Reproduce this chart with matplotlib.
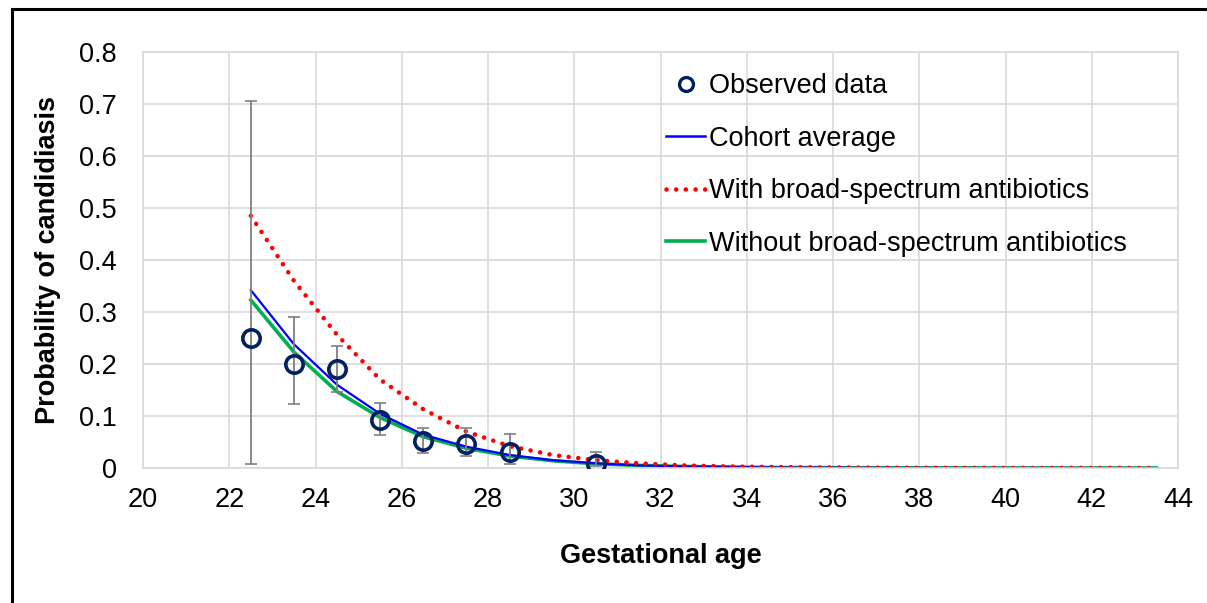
import matplotlib
matplotlib.use("Agg")
import matplotlib.pyplot as plt
from matplotlib.lines import Line2D
from matplotlib.patches import Rectangle

plt.rcParams['font.family'] = ['Liberation Sans', 'DejaVu Sans']

# Observed data
obs_x = [22.5, 23.5, 24.5, 25.5, 26.5, 27.5, 28.5, 30.5]
obs_y = [0.25, 0.20, 0.19, 0.093, 0.051, 0.047, 0.031, 0.008]
obs_lo = [0.008, 0.123, 0.146, 0.063, 0.029, 0.023, 0.008, 0.004]
obs_hi = [0.706, 0.290, 0.235, 0.125, 0.077, 0.077, 0.065, 0.031]

# Model curves
ga = [22.5, 23.5, 24.5, 25.5, 26.5, 27.5, 28.5, 29.5, 30.5, 31.5, 32.5,
      33.5, 34.5, 35.5, 36.5, 37.5, 38.5, 39.5, 40.5, 41.5, 42.5, 43.5]
cohort = [0.342, 0.238, 0.160, 0.104, 0.064, 0.041, 0.025, 0.015, 0.009,
          0.005, 0.003, 0.002, 0.001, 0.0008, 0.0005, 0.0003, 0.0002,
          0.0001, 0.0001, 0.0001, 0.0, 0.0]
with_abx = [0.485, 0.360, 0.256, 0.170, 0.113, 0.070, 0.042, 0.025, 0.015,
            0.009, 0.005, 0.003, 0.002, 0.0012, 0.0008, 0.0005, 0.0003,
            0.0002, 0.0001, 0.0001, 0.0001, 0.0]
without_abx = [0.323, 0.223, 0.147, 0.097, 0.060, 0.038, 0.023, 0.014,
               0.008, 0.005, 0.003, 0.002, 0.001, 0.0007, 0.0004, 0.0003,
               0.0002, 0.0001, 0.0001, 0.0, 0.0, 0.0]

xticks = list(range(20, 46, 2))
yticks = [0, 0.1, 0.2, 0.3, 0.4, 0.5, 0.6, 0.7, 0.8]
ytick_labels = ['0', '0.1', '0.2', '0.3', '0.4', '0.5', '0.6', '0.7', '0.8']

W, H = 1207, 603
FS = 19.5
fig = plt.figure(figsize=(W / 100, H / 100), dpi=100)
left, right, top, bottom = 143, 1178, 52, 468
ax = fig.add_axes([left / W, 1 - bottom / H, (right - left) / W, (bottom - top) / H])

grid_c = '#d9d9d9'
ax.set_xlim(20, 44)
ax.set_ylim(0, 0.8)
ax.set_xticks(xticks)
ax.set_yticks(yticks)
ax.set_yticklabels(ytick_labels)
ax.grid(True, color=grid_c, linewidth=1.2)
ax.set_axisbelow(True)
for s in ax.spines.values():
    s.set_color(grid_c)
    s.set_linewidth(1.2)
ax.tick_params(length=0, labelsize=FS)
ax.tick_params(axis='y', pad=19)
ax.tick_params(axis='x', pad=14)

red_style = (0, (0.01, 2.1))
ax.plot(ga, without_abx, color='#00b050', linewidth=2.6, zorder=2)
ax.plot(ga, cohort, color='#0000ff', linewidth=1.6, zorder=2.1)
ax.plot(ga, with_abx, color='#ff0000', linestyle=red_style, linewidth=3.3,
        dash_capstyle='round', zorder=2.2)

yerr = [[y - lo for y, lo in zip(obs_y, obs_lo)], [hi - y for y, hi in zip(obs_y, obs_hi)]]
ax.errorbar(obs_x, obs_y, yerr=yerr, fmt='none', ecolor='#7f7f7f', elinewidth=1.3,
            capsize=4, capthick=1.2, zorder=4)
ax.plot(obs_x, obs_y, linestyle='none', marker='o', markersize=12.5,
        markerfacecolor='none', markeredgecolor='#002060', markeredgewidth=2.6, zorder=5)

ax.set_xlabel('Gestational age', fontsize=FS, fontweight='bold')
ax.set_ylabel('Probability of candidiasis', fontsize=FS, fontweight='bold')
ax.xaxis.set_label_coords((661 - left) / (right - left), (bottom - 556) / (bottom - top))
ax.xaxis.label.set_va('center')
ax.yaxis.set_label_coords((48 - left) / (right - left), 0.5)
ax.yaxis.label.set_va('center')

handles = [
    Line2D([], [], linestyle='none', marker='o', markersize=10, markerfacecolor='none',
           markeredgecolor='#002060', markeredgewidth=2.4),
    Line2D([], [], color='#0000ff', linewidth=1.8),
    Line2D([], [], color='#ff0000', linestyle=red_style, linewidth=3.3,
           dash_capstyle='round'),
    Line2D([], [], color='#00b050', linewidth=2.6),
]
labels = ['Observed data', 'Cohort average', 'With broad-spectrum antibiotics',
          'Without broad-spectrum antibiotics']
leg = ax.legend(handles, labels, loc='upper left',
                bbox_to_anchor=((666 - left) / (right - left), (bottom - 73) / (bottom - top)),
                frameon=False, fontsize=FS, handlelength=1.45, handletextpad=0.15,
                labelspacing=0.98, borderaxespad=0, borderpad=0)

# Outer frame (only left and top visible in the reference)
fig.patches.append(Rectangle((12 / W, -0.1), 1.2, (1 - 9 / H) + 0.1,
                             transform=fig.transFigure, fill=False,
                             edgecolor='black', linewidth=2.2))

fig.savefig('out.png', dpi=100)
